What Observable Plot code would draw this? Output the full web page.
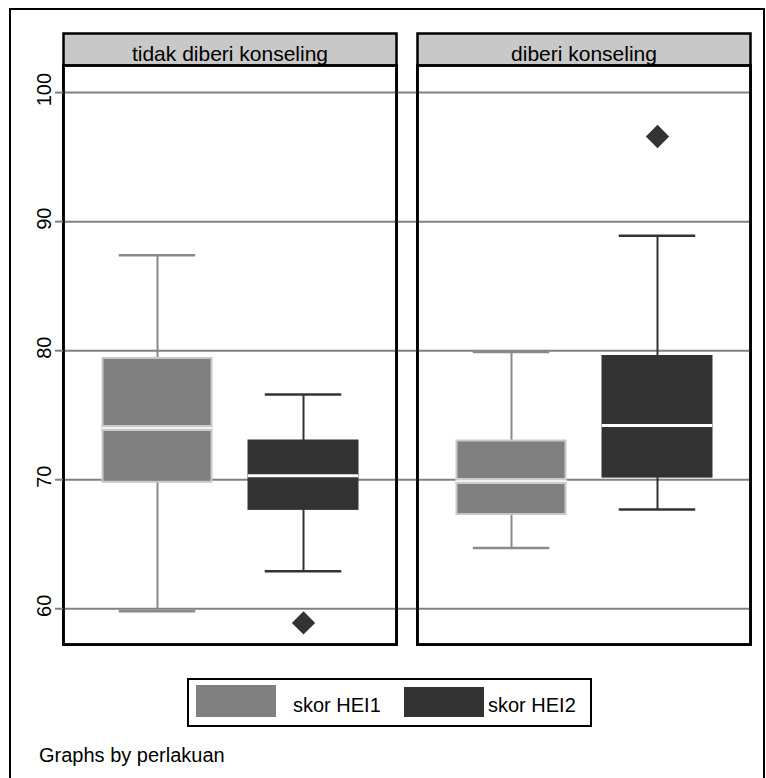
<!DOCTYPE html>
<html>
<head>
<meta charset="utf-8">
<script src="https://cdn.jsdelivr.net/npm/d3@7"></script>
<script src="https://cdn.jsdelivr.net/npm/@observablehq/plot@0.6"></script>
<style>
  html, body { margin: 0; padding: 0; background: #fff; overflow: hidden; }
  body { width: 766px; height: 778px; position: relative; font-family: "Liberation Sans", Arial, sans-serif; }
  #outer { position: absolute; left: 9px; top: 8px; width: 756px; height: 800px; border: 2px solid #000; box-sizing: border-box; }
  #chart { position: absolute; left: 0; top: 0; }
  #legend { position: absolute; left: 187px; top: 678px; width: 405px; height: 49px; border: 2.5px solid #000; box-sizing: border-box; background: #fff; }
  .sw { position: absolute; height: 32px; }
  .lt { position: absolute; font-size: 20px; line-height: 20px; color: #000; }
  #caption { position: absolute; left: 39px; top: 745px; font-size: 20px; line-height: 20px; color: #000; }
</style>
</head>
<body>
<div id="outer"></div>
<div id="chart"></div>
<div id="legend"></div>
<div id="caption">Graphs by perlakuan</div>
<script>
// ---- data ----
const panels = ["tidak diberi konseling", "diberi konseling"];
const series = ["skor HEI1", "skor HEI2"];
const colors = ["#808080", "#333333"];
// per box, order: [panel0-HEI1, panel0-HEI2, panel1-HEI1, panel1-HEI2]
const boxPanel  = [0, 0, 1, 1];
const boxSeries = [0, 1, 0, 1];
const whiskLo = [59.8, 62.9, 64.7, 67.7];
const q1      = [69.8, 67.7, 67.3, 70.2];
const median  = [74.0, 70.3, 69.9, 74.2];
const q3      = [79.4, 73.0, 73.0, 79.55];
const whiskHi = [87.4, 76.6, 79.9, 88.9];
const outPanel  = [0, 1];
const outSeries = [1, 1];
const outValue  = [58.9, 96.6];
const yTicks = [60, 70, 80, 90, 100];
const yDomain = [57.23, 102.1];

const boxes = boxPanel.map((p, i) => ({
  panel: panels[p], series: series[boxSeries[i]],
  lo: whiskLo[i], q1: q1[i], med: median[i], q3: q3[i], hi: whiskHi[i]
}));
const outliers = outPanel.map((p, i) => ({panel: panels[p], series: series[outSeries[i]], v: outValue[i]}));
const gridLeft = yTicks.map(v => ({panel: panels[0], v}));
const gridRight = yTicks.map(v => ({panel: panels[1], v}));

const boxStroke = d => d.series === series[0] ? "#c8c8c8" : "#333333";
const whiskStroke = d => d.series === series[0] ? "#8a8a8a" : "#333333";

const chart = Plot.plot({
  width: 766,
  height: 660,
  marginTop: 65,
  marginBottom: 16,
  marginLeft: 63,
  marginRight: 15,
  style: {fontFamily: "'Liberation Sans', Arial, sans-serif", fontSize: "20px", background: "transparent"},
  fx: {domain: panels, paddingInner: 0.0592, paddingOuter: 0, axis: null},
  x: {domain: series, paddingInner: 0, paddingOuter: 0.14, axis: null},
  y: {domain: yDomain, axis: null},
  marks: [
    Plot.frame({insetTop: -32, fill: "#c8c8c8", stroke: "#000", strokeWidth: 2.5}),
    Plot.frame({fill: "#fff", stroke: "#000", strokeWidth: 2.5}),
    Plot.ruleY(gridLeft, {fx: "panel", y: "v", stroke: "#808080", strokeWidth: 2, insetRight: -21}),
    Plot.ruleY(gridRight, {fx: "panel", y: "v", stroke: "#808080", strokeWidth: 2}),
    Plot.ruleX(boxes, {fx: "panel", x: "series", y1: "lo", y2: "hi", stroke: whiskStroke, strokeWidth: 2}),
    Plot.tickY(boxes, {fx: "panel", x: "series", y: "lo", stroke: whiskStroke, strokeWidth: 2.5, inset: 34.75}),
    Plot.tickY(boxes, {fx: "panel", x: "series", y: "hi", stroke: whiskStroke, strokeWidth: 2.5, inset: 34.75}),
    Plot.barY(boxes, {fx: "panel", x: "series", y1: "q1", y2: "q3", fill: d => colors[series.indexOf(d.series)], stroke: boxStroke, strokeWidth: 2, insetLeft: 18.5, insetRight: 18.5}),
    Plot.tickY(boxes.filter(d => d.series === series[0]), {fx: "panel", x: "series", y: "med", stroke: "#cccccc", strokeWidth: 6, inset: 17.5}),
    Plot.tickY(boxes.filter(d => d.series === series[0]), {fx: "panel", x: "series", y: "med", stroke: "#f2f2f2", strokeWidth: 2, inset: 17.5}),
    Plot.tickY(boxes.filter(d => d.series === series[1]), {fx: "panel", x: "series", y: "med", stroke: "#ffffff", strokeWidth: 3, inset: 17.75}),
    Plot.dot(outliers, {fx: "panel", x: "series", y: "v", symbol: "diamond2", r: 10.5, fill: "#333333", stroke: "none"}),
    Plot.frame({stroke: "#000", strokeWidth: 2.5}),
    Plot.text(panels, {fx: d => d, text: d => d, frameAnchor: "top", dy: -11, fontSize: 21, fill: "#000", lineAnchor: "middle"}),
    Plot.axisY(yTicks, {tickSize: 8, tickFormat: () => "", stroke: "#808080", strokeWidth: 2, label: null}),
    Plot.text(gridLeft, {fx: "panel", y: "v", text: d => String(d.v), frameAnchor: "left", dx: -13, dy: -3, rotate: -90, textAnchor: "middle", lineAnchor: "bottom", fontSize: 20, fill: "#000"})
  ]
});
document.getElementById("chart").appendChild(chart);

// legend (HTML, below the SVG area)
const legend = document.getElementById("legend");
const swLeft = [7, 215], txtLeft = [104, 299];
series.forEach((s, i) => {
  const sw = document.createElement("div");
  sw.className = "sw";
  sw.style.left = swLeft[i] + "px";
  sw.style.top = (i === 0 ? 5 : 7) + "px";
  sw.style.width = "80px";
  sw.style.height = (i === 0 ? 32 : 30) + "px";
  sw.style.background = colors[i];
  legend.appendChild(sw);
  const t = document.createElement("div");
  t.className = "lt";
  t.style.left = txtLeft[i] + "px";
  t.style.top = "15px";
  t.textContent = s;
  legend.appendChild(t);
});
</script>
</body>
</html>
